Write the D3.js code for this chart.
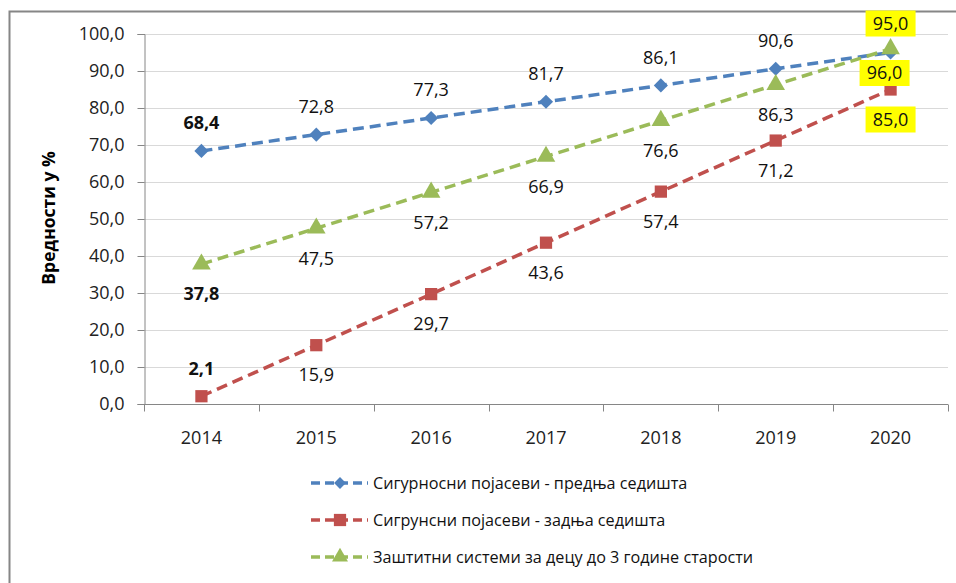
<!DOCTYPE html>
<html>
<head>
<meta charset="utf-8">
<script src="https://cdn.jsdelivr.net/npm/d3@7"></script>
<style>
  body { margin: 0; background: #fff; }
  svg { display: block; font-family: "Open Sans", "Noto Sans", sans-serif; }
</style>
</head>
<body>
<div id="chart"></div>
<script>
const years = ['2014', '2015', '2016', '2017', '2018', '2019', '2020'];
const frontSeats = [68.4, 72.8, 77.3, 81.7, 86.1, 90.6, 95.0];
const rearSeats = [2.1, 15.9, 29.7, 43.6, 57.4, 71.2, 85.0];
const childSeats = [37.8, 47.5, 57.2, 66.9, 76.6, 86.3, 96.0];
const yTicks = [0, 10, 20, 30, 40, 50, 60, 70, 80, 90, 100];
const seriesNames = [
  'Сигурносни појасеви - предња седишта',
  'Сигрунсни појасеви - задња седишта',
  'Заштитни системи за децу до 3 године старости'
];

const width = 956, height = 583;
const svg = d3.select('#chart').append('svg').attr('width', width).attr('height', height);

// outer frame (only top and left visible in the crop)
svg.append('path').attr('d', 'M9.5,583 V11.5 H956')
  .attr('fill', 'none').attr('stroke', '#868686').attr('stroke-width', 2);

const x = d3.scalePoint().domain(years).range([144, 948]).padding(0.5);
const y = d3.scaleLinear().domain([0, 100]).range([404, 34]);
const step = x.step();
const fmt = d3.formatLocale({ decimal: ',', thousands: '.', grouping: [3], currency: ['', ''] }).format('.1f');

// square diamond (rotated square) like Excel's marker
const diamond = {
  draw(ctx, size) {
    const r = Math.sqrt(size / 2);
    ctx.moveTo(0, -r); ctx.lineTo(r, 0); ctx.lineTo(0, r); ctx.lineTo(-r, 0); ctx.closePath();
  }
};

// gridlines
svg.append('g').selectAll('line').data(yTicks.slice(1)).join('line')
  .attr('x1', 144).attr('x2', 948)
  .attr('y1', d => Math.round(y(d)) + 0.5).attr('y2', d => Math.round(y(d)) + 0.5)
  .attr('stroke', '#d9d9d9').attr('stroke-width', 1);

// y axis
const yAxis = svg.append('g').attr('transform', 'translate(144.5,0)')
  .call(d3.axisLeft(y).tickValues(yTicks).tickSize(7).tickPadding(13).tickFormat(fmt));
yAxis.selectAll('line, path').attr('stroke', '#868686');
yAxis.selectAll('text').attr('font-size', 18).attr('fill', '#222').attr('font-family', 'Open Sans');

// x axis
const xAxis = svg.append('g').attr('transform', 'translate(0,404.5)');
xAxis.append('line').attr('x1', 144).attr('x2', 948).attr('stroke', '#868686');
xAxis.selectAll('line.tk').data(d3.range(years.length + 1)).join('line')
  .attr('class', 'tk')
  .attr('x1', i => Math.round(144 + i * step) + 0.5).attr('x2', i => Math.round(144 + i * step) + 0.5)
  .attr('y1', 0).attr('y2', 7).attr('stroke', '#868686');
xAxis.selectAll('text').data(years).join('text')
  .attr('x', d => x(d)).attr('y', 39)
  .attr('text-anchor', 'middle').attr('font-size', 18).attr('fill', '#222')
  .text(d => d);

// axis title
svg.append('text')
  .attr('transform', 'translate(55,218) rotate(-90)')
  .attr('text-anchor', 'middle').attr('font-size', 17.5).attr('font-weight', 'bold')
  .text('Вредности у %');

const series = [
  { name: seriesNames[0], values: frontSeats, color: '#4f81bd', symbol: diamond, size: 100, legendSize: 70, pos: 'above' },
  { name: seriesNames[1], values: rearSeats, color: '#c0504d', symbol: d3.symbolSquare, size: 150, legendSize: 150, pos: 'below' },
  { name: seriesNames[2], values: childSeats, color: '#9bbb59', symbol: d3.symbolTriangle, size: 150, legendSize: 110, pos: 'below' }
];

const line = d3.line().x((d, i) => x(years[i])).y(d => y(d));

series.forEach(s => {
  svg.append('path').datum(s.values)
    .attr('d', line).attr('fill', 'none')
    .attr('stroke', s.color).attr('stroke-width', 3.5)
    .attr('stroke-dasharray', '11,6');
});
series.forEach(s => {
  svg.append('g').selectAll('path').data(s.values).join('path')
    .attr('transform', (d, i) => `translate(${x(years[i])},${y(d)})`)
    .attr('d', d3.symbol().type(s.symbol).size(s.size))
    .attr('fill', s.color);
});

// data labels
function labelPos(s, i) {
  let dy = s.pos === 'above' ? -28 : 30;
  if (i === 0 && s.values === rearSeats) dy = -28;
  if (i === years.length - 1 && s.values === frontSeats) dy = -29;
  return dy;
}
series.forEach(s => {
  const g = svg.append('g');
  s.values.forEach((v, i) => {
    const cx = x(years[i]);
    let cy = y(v) + labelPos(s, i);
    let lx = cx;
    if (s.values === childSeats && i === years.length - 1) { lx = cx - 6; cy = 73; }
    if (i === years.length - 1) {
      g.append('rect').attr('x', lx - 25).attr('y', cy - 13).attr('width', 50).attr('height', 26)
        .attr('fill', '#ffff00');
    }
    g.append('text')
      .attr('x', lx).attr('y', cy).attr('dy', '0.35em')
      .attr('text-anchor', 'middle').attr('font-size', 18)
      .attr('font-weight', i === 0 ? 'bold' : 'normal')
      .attr('fill', '#111')
      .text(fmt(v));
  });
});

// legend
const legend = svg.append('g');
series.forEach((s, k) => {
  const ly = 483 + k * 37;
  legend.append('line').attr('x1', 311).attr('x2', 368).attr('y1', ly).attr('y2', ly)
    .attr('stroke', s.color).attr('stroke-width', 3.5).attr('stroke-dasharray', '9,5');
  legend.append('path').attr('transform', `translate(340,${ly})`)
    .attr('d', d3.symbol().type(s.symbol).size(s.legendSize)).attr('fill', s.color);
  legend.append('text').attr('x', 373).attr('y', ly).attr('dy', '0.35em')
    .attr('font-size', 16.2).attr('fill', '#111').text(s.name);
});
</script>
</body>
</html>
